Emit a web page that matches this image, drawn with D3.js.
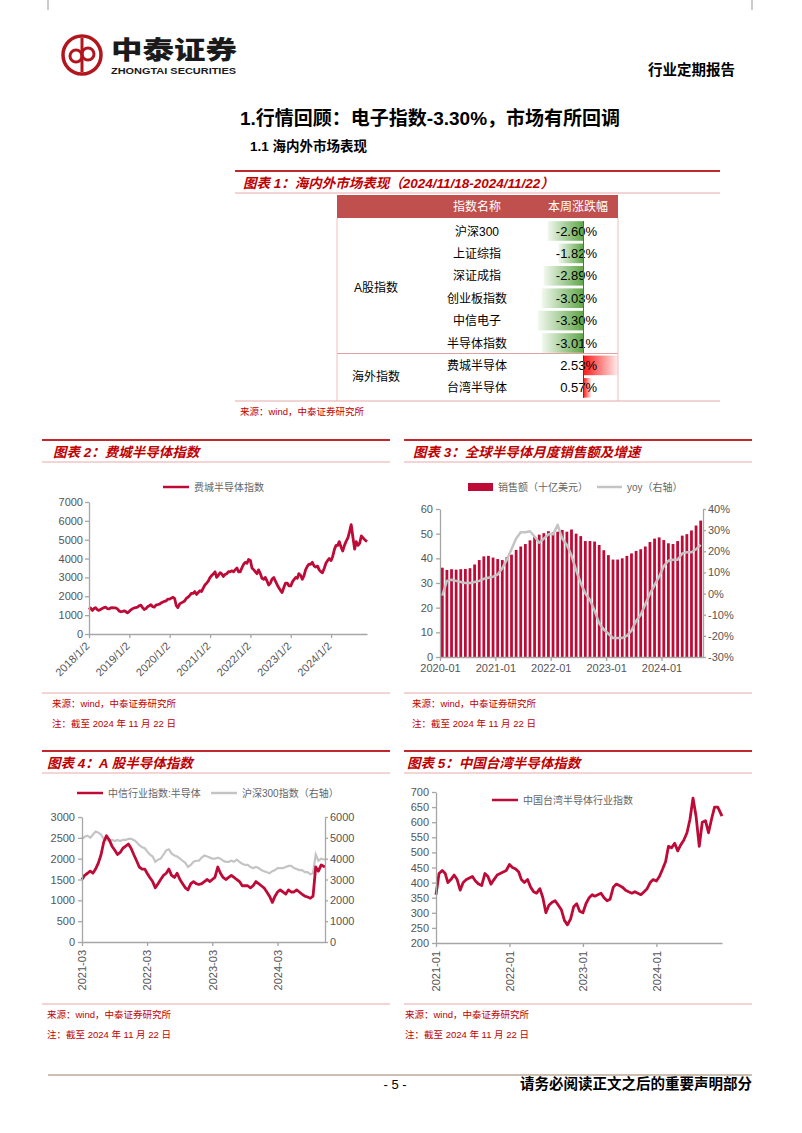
<!DOCTYPE html>
<html><head><meta charset="utf-8">
<script src="https://cdn.jsdelivr.net/npm/d3@7"></script>
<style>
body{margin:0;background:#fff;}
text{font-family:"Liberation Sans","Noto Sans CJK SC",sans-serif;}
</style></head><body>
<svg id="page" width="802" height="1133"></svg>
<script>
// ---- table 1
const tableNames = ["沪深300","上证综指","深证成指","创业板指数","中信电子","半导体指数","费城半导体","台湾半导体"];
const tableChanges = [-2.60,-1.82,-2.89,-3.03,-3.30,-3.01,2.53,0.57];
const tableGroups = [{name:"A股指数", first:0, last:5},{name:"海外指数", first:6, last:7}];

// ---- fig 2: 费城半导体指数, twice a month from 2018-01
const soxTicks = ["2018-01-02","2019-01-02","2020-01-02","2021-01-02","2022-01-02","2023-01-02","2024-01-02"];
const soxValues = [
  1300,1380,1250,1350,1400,1300,1250,1300,1350,1400,1420,1350,1330,1380,1400,1390,1380,1330,1220,1180,1200,1230,1180,1120,
  1200,1280,1350,1380,1400,1420,1500,1530,1400,1300,1350,1450,1500,1550,1450,1430,1550,1560,1580,1650,1700,1730,1760,1850,
  1850,1900,1950,1880,1500,1400,1600,1650,1700,1750,1900,1950,2050,2150,2150,2250,2100,2200,2300,2250,2450,2600,2700,2800,
  3000,3100,3200,3300,3000,3100,3250,3200,3050,3150,3200,3300,3300,3350,3300,3400,3500,3300,3300,3500,3700,3800,3750,3950,
  3900,3500,3400,3300,3200,3400,3200,2950,2900,3000,2800,2600,2700,2900,3000,2800,2600,2450,2300,2200,2500,2700,2700,2550,
  2550,2750,2900,3000,2950,3200,3100,2900,3100,3400,3600,3700,3700,3800,3600,3550,3600,3400,3300,3250,3500,3750,3900,4000,
  3900,4100,4500,4700,4700,4900,4600,4400,4700,4900,5100,5400,5800,5200,4500,4900,4700,4800,5200,5100,5000,4900
];

// ---- fig 3: 全球半导体月度销售额, 2020-01 .. 2024-09
const salesTickLabels = ["2020-01","2021-01","2022-01","2023-01","2024-01"];
const salesValues = [
  36.2,35.3,35.6,35.4,35.6,35.7,36.0,37.5,39.3,40.8,41.0,40.3,
  39.7,39.3,40.5,41.5,43.4,44.8,45.8,47.3,49.0,49.6,50.2,51.0,
  50.5,50.8,51.5,50.8,51.7,50.0,49.0,47.0,47.0,46.8,45.4,43.3,
  41.3,39.5,39.5,40.0,41.0,42.0,43.0,43.7,44.8,46.6,48.0,48.5,
  47.4,46.1,45.8,47.0,49.2,49.8,51.3,53.3,55.3
];
const salesYoy = [
  -1,6,6.5,6,5.5,5,5,5.5,6,7,7.5,8,
  9,12,16,21,26,29,29,29.5,27,24,26,28,
  28,32.5,26,23,18,11,5,0,-3,-8,-14,-17,
  -19,-21,-21,-21,-20,-17.5,-13,-10,-5,0,4,8,
  13,15.5,16,16,19,19.5,19.5,21,23
];

// ---- fig 4: A股半导体, twice a month from 2021-03
const aTicks = ["2021-03-01","2022-03-01","2023-03-01","2024-03-01"];
const citicSemi = [
  1500,1600,1650,1700,1650,1750,1900,2100,2400,2550,2450,2300,2200,2100,2150,2250,2300,2350,2250,2100,
  1950,1800,1750,1750,1650,1550,1450,1300,1400,1500,1600,1650,1750,1600,1550,1650,1500,1400,1300,1250,1400,1450,1400,1380,
  1400,1450,1500,1450,1500,1550,1800,1650,1550,1500,1550,1600,1550,1500,1450,1350,1350,1350,1300,1350,1450,1400,1350,1300,
  1200,1100,950,1100,1200,1250,1200,1150,1250,1200,1200,1250,1200,1150,1100,1080,1050,1100,1800,1700,1850,1800
];
const csi300 = [
  4950,5050,5100,5000,5150,5300,5250,5150,4950,4900,4850,4900,4850,4900,4850,4900,4900,4950,4950,4900,
  4800,4650,4550,4500,4350,4200,4100,3850,3950,4000,4200,4400,4450,4250,4150,4100,4000,3900,3800,3600,3700,3850,3900,3900,
  4050,4150,4100,4050,4000,4000,4050,4000,3900,3850,3850,3900,3850,3950,3850,3750,3700,3700,3600,3550,3600,3550,3450,3400,
  3350,3300,3400,3450,3550,3550,3550,3600,3650,3650,3550,3500,3450,3450,3350,3350,3250,3300,4200,3900,4000,3950
];

// ---- fig 5: 中国台湾半导体, twice a month from 2021-01
const twTicks = ["2021-01-01","2022-01-01","2023-01-01","2024-01-01"];
const twSemi = [
  360,430,440,430,400,410,425,410,375,400,410,415,420,405,395,390,430,420,395,410,425,430,435,440,
  460,450,445,435,410,400,410,385,370,365,380,350,300,325,335,340,325,310,275,260,280,320,330,305,
  300,330,350,360,355,360,365,350,340,345,385,395,390,385,375,370,365,370,365,360,370,380,400,410,
  405,420,445,470,520,515,530,505,525,540,565,610,680,620,520,600,605,565,610,650,650,620
];
const endDate = new Date(2024, 10, 22);

const RED = "#c00000";
const SERIES = "#be0a37";
const GRAY = "#c4c4c4";
const parse = d3.timeParse("%Y-%m-%d");
const plain = d3.format("d");

function halfMonthDates(y, m, d0, n) {
  return d3.range(n).map(i => i === n - 1 ? endDate : new Date(y, m + Math.floor(i / 2), i % 2 ? 16 : d0));
}

const svg = d3.select("#page");
svg.append("rect").attr("width", 802).attr("height", 1133).attr("fill", "#fff");

// header
svg.append("line").attr("x1", 48).attr("x2", 48).attr("y1", 0).attr("y2", 10).attr("stroke", "#999");
svg.append("line").attr("x1", 752).attr("x2", 752).attr("y1", 0).attr("y2", 10).attr("stroke", "#999");
const logo = svg.append("g").attr("fill", "none").attr("stroke", "#b3151d");
logo.append("circle").attr("cx", 82).attr("cy", 55).attr("r", 19).attr("stroke-width", 3.5);
logo.append("circle").attr("cx", 76).attr("cy", 56).attr("r", 6).attr("stroke-width", 3);
logo.append("circle").attr("cx", 88).attr("cy", 54).attr("r", 6).attr("stroke-width", 3);
logo.append("line").attr("x1", 82).attr("x2", 82).attr("y1", 38).attr("y2", 72).attr("stroke-width", 3);
svg.append("text").attr("x", 111).attr("y", 59).attr("font-size", 25).attr("font-weight", 900)
  .attr("textLength", 126).attr("lengthAdjust", "spacingAndGlyphs").attr("fill", "#1a1a1a").text("中泰证券");
svg.append("text").attr("x", 111).attr("y", 73.5).attr("font-size", 9).attr("font-weight", 700)
  .attr("textLength", 125).attr("lengthAdjust", "spacingAndGlyphs").attr("fill", "#1a1a1a").text("ZHONGTAI SECURITIES");
svg.append("text").attr("x", 735).attr("y", 75).attr("text-anchor", "end").attr("font-size", 14.5)
  .attr("font-weight", 700).text("行业定期报告");

svg.append("text").attr("x", 240).attr("y", 125).attr("font-size", 19).attr("font-weight", 700)
  .text("1.行情回顾：电子指数-3.30%，市场有所回调");
svg.append("text").attr("x", 250).attr("y", 151).attr("font-size", 13.5).attr("font-weight", 700)
  .text("1.1 海内外市场表现");

function frame(x0, x1, yTop, tx, title) {
  svg.append("line").attr("x1", x0).attr("x2", x1).attr("y1", yTop).attr("y2", yTop)
    .attr("stroke", "#c0282d").attr("stroke-width", 2.2);
  svg.append("text").attr("x", tx).attr("y", yTop + 17).attr("font-size", 13.5).attr("font-weight", 700)
    .attr("font-style", "italic").attr("fill", RED).text(title);
  svg.append("line").attr("x1", x0).attr("x2", x1).attr("y1", yTop + 22).attr("y2", yTop + 22)
    .attr("stroke", "#e8a9a9").attr("stroke-width", 1);
}
function source(x0, x1, yLine, tx, lines) {
  svg.append("line").attr("x1", x0).attr("x2", x1).attr("y1", yLine).attr("y2", yLine)
    .attr("stroke", "#e8a9a9").attr("stroke-width", 1.2);
  lines.forEach((t, i) => svg.append("text").attr("x", tx).attr("y", yLine + 14 + i * 20)
    .attr("font-size", 9.5).attr("fill", RED).text(t));
}
function styleAxis(g) {
  g.attr("font-size", 11).attr("font-family", "Liberation Sans, Arial, sans-serif");
  g.select(".domain").attr("stroke", "#a6a6a6").attr("stroke-width", 1.3);
  g.selectAll(".tick line").attr("stroke", "#a6a6a6").attr("stroke-width", 1.3);
  g.selectAll(".tick text").attr("fill", "#555");
}
function legendLine(x, y, color, label) {
  svg.append("line").attr("x1", x).attr("x2", x + 26).attr("y1", y).attr("y2", y)
    .attr("stroke", color).attr("stroke-width", 2.5);
  svg.append("text").attr("x", x + 31).attr("y", y + 3.5).attr("font-size", 10).attr("fill", "#666").text(label);
}
const SRC = "来源：wind，中泰证券研究所";
const NOTE = "注：截至 2024 年 11 月 22 日";

// ================= figure 1 table
frame(235, 720, 171, 243, "图表 1：海内外市场表现（2024/11/18-2024/11/22）");
const tX0 = 337, tX1 = 618, rowY0 = 231, rowStep = 22.4, zeroX = 583.5;
svg.append("rect").attr("x", tX0).attr("y", 195).attr("width", tX1 - tX0).attr("height", 23).attr("fill", "#c0504d");
svg.append("text").attr("x", 477).attr("y", 211).attr("text-anchor", "middle").attr("font-size", 12)
  .attr("fill", "#fff").text("指数名称");
svg.append("text").attr("x", 578).attr("y", 211).attr("text-anchor", "middle").attr("font-size", 12)
  .attr("fill", "#fff").text("本周涨跌幅");
const defs = svg.append("defs");
const gNeg = defs.append("linearGradient").attr("id", "gneg");
gNeg.append("stop").attr("offset", 0).attr("stop-color", "#f2f8ef");
gNeg.append("stop").attr("offset", 1).attr("stop-color", "#5ea646");
const gPos = defs.append("linearGradient").attr("id", "gpos");
gPos.append("stop").attr("offset", 0).attr("stop-color", "#ff1a1a");
gPos.append("stop").attr("offset", 1).attr("stop-color", "#fff0f0");
const barLen = d3.scaleLinear().domain([0, 3.3]).range([0, 45.5]);
const rowY = i => rowY0 + i * rowStep;
const rows = svg.append("g").selectAll("g").data(tableNames).join("g");
rows.append("rect")
  .attr("x", (d, i) => tableChanges[i] < 0 ? zeroX - barLen(-tableChanges[i]) : zeroX)
  .attr("y", (d, i) => rowY(i) - 9.8).attr("height", 19.6)
  .attr("width", (d, i) => barLen(Math.abs(tableChanges[i])))
  .attr("fill", (d, i) => tableChanges[i] < 0 ? "url(#gneg)" : "url(#gpos)");
rows.append("text").attr("x", 477).attr("y", (d, i) => rowY(i) + 4.5).attr("text-anchor", "middle")
  .attr("font-size", 12).text(d => d);
rows.append("text").attr("x", 597).attr("y", (d, i) => rowY(i) + 4.5).attr("text-anchor", "end")
  .attr("font-size", 13).text((d, i) => (tableChanges[i] < 0 ? "-" : "") + Math.abs(tableChanges[i]).toFixed(2) + "%");
svg.append("line").attr("x1", zeroX).attr("x2", zeroX).attr("y1", rowY(0) - 10).attr("y2", rowY(5) + 10)
  .attr("stroke", "#3f7f2f").attr("stroke-width", 1);
svg.append("line").attr("x1", zeroX).attr("x2", zeroX).attr("y1", rowY(6) - 10).attr("y2", rowY(7) + 10)
  .attr("stroke", "#e00000").attr("stroke-width", 1);
tableGroups.forEach(g => {
  svg.append("text").attr("x", 376).attr("y", (rowY(g.first) + rowY(g.last)) / 2 + 4.5)
    .attr("text-anchor", "middle").attr("font-size", 12).text(g.name);
});
svg.append("line").attr("x1", tX0).attr("x2", tX1).attr("y1", 353.5).attr("y2", 353.5).attr("stroke", "#e3a0a0");
[tX0, tX1].forEach(x => svg.append("line").attr("x1", x).attr("x2", x).attr("y1", 218).attr("y2", 401)
  .attr("stroke", "#eec0c0"));
source(235, 720, 401, 240, [SRC]);

// ================= figure 2
frame(42, 390, 440, 53, "图表 2：费城半导体指数");
legendLine(163, 487, SERIES, "费城半导体指数");
const soxDates = halfMonthDates(2018, 0, 2, soxValues.length);
const x2 = d3.scaleTime().domain([parse(soxTicks[0]), endDate]).range([89, 367]);
const y2 = d3.scaleLinear().domain([0, 7000]).range([634, 502]);
svg.append("path").datum(soxValues).attr("fill", "none").attr("stroke", SERIES).attr("stroke-width", 2.8)
  .attr("stroke-linejoin", "round")
  .attr("d", d3.line().x((d, i) => x2(soxDates[i])).y(d => y2(d)));
svg.append("g").attr("transform", "translate(89,0)")
  .call(d3.axisLeft(y2).tickValues(d3.range(0, 7001, 1000)).tickFormat(plain)
    .tickSize(4).tickPadding(2).tickSizeOuter(0))
  .call(styleAxis);
svg.append("g").attr("transform", "translate(0,634)")
  .call(d3.axisBottom(x2).tickValues(soxTicks.map(parse)).tickFormat(d3.timeFormat("%Y/%-m/%-d"))
    .tickSize(4).tickSizeOuter(0))
  .call(styleAxis)
  .call(g => g.selectAll(".tick text").attr("text-anchor", "end").attr("x", 0).attr("y", 0)
    .attr("dy", "0.35em").attr("transform", "translate(-2,10) rotate(-45)"));
source(42, 390, 693, 52, [SRC, NOTE]);

// ================= figure 3
frame(404, 752, 440, 413, "图表 3：全球半导体月度销售额及增速");
svg.append("rect").attr("x", 468).attr("y", 483).attr("width", 25).attr("height", 8).attr("fill", SERIES);
svg.append("text").attr("x", 498).attr("y", 490.5).attr("font-size", 10).attr("fill", "#666").text("销售额（十亿美元）");
svg.append("line").attr("x1", 597).attr("x2", 622).attr("y1", 487).attr("y2", 487).attr("stroke", GRAY).attr("stroke-width", 2.5);
svg.append("text").attr("x", 627).attr("y", 490.5).attr("font-size", 10).attr("fill", "#666").text("yoy（右轴）");
const x3 = d3.scaleLinear().domain([0, salesValues.length]).range([440, 703]);
const bw3 = x3(1) - x3(0);
const y3 = d3.scaleLinear().domain([0, 60]).range([657, 509]);
const y3r = d3.scaleLinear().domain([-30, 40]).range([657, 509]);
svg.append("g").selectAll("rect").data(salesValues).join("rect")
  .attr("x", (d, i) => x3(i) + bw3 * 0.2).attr("width", bw3 * 0.6)
  .attr("y", d => y3(d)).attr("height", d => y3(0) - y3(d)).attr("fill", SERIES);
svg.append("path").datum(salesYoy).attr("fill", "none").attr("stroke", GRAY).attr("stroke-width", 2.5)
  .attr("stroke-linejoin", "round")
  .attr("d", d3.line().x((d, i) => x3(i + 0.5)).y(d => y3r(d)));
svg.append("g").attr("transform", "translate(440,0)")
  .call(d3.axisLeft(y3).tickValues(d3.range(0, 61, 10)).tickSize(4).tickPadding(3).tickSizeOuter(0))
  .call(styleAxis);
svg.append("g").attr("transform", "translate(703,0)")
  .call(d3.axisRight(y3r).tickValues(d3.range(-30, 41, 10)).tickFormat(d => d + "%")
    .tickSize(3).tickPadding(2).tickSizeOuter(0))
  .call(styleAxis);
svg.append("g").attr("transform", "translate(0,657)")
  .call(d3.axisBottom(x3).tickValues([0, 12, 24, 36, 48]).tickFormat((d, i) => salesTickLabels[i])
    .tickSize(4).tickSizeOuter(0))
  .call(styleAxis);
source(404, 752, 693, 412, [SRC, NOTE]);

// ================= figure 4
frame(42, 390, 751, 47, "图表 4：A 股半导体指数");
legendLine(77, 793, SERIES, "中信行业指数:半导体");
legendLine(211, 793, GRAY, "沪深300指数（右轴）");
const aDates = halfMonthDates(2021, 2, 1, citicSemi.length);
const x4 = d3.scaleTime().domain([parse(aTicks[0]), endDate]).range([82, 325]);
const y4 = d3.scaleLinear().domain([0, 3000]).range([942, 817]);
const y4r = d3.scaleLinear().domain([0, 6000]).range([942, 817]);
svg.append("path").datum(csi300).attr("fill", "none").attr("stroke", GRAY).attr("stroke-width", 2.2)
  .attr("d", d3.line().x((d, i) => x4(aDates[i])).y(d => y4r(d)));
svg.append("path").datum(citicSemi).attr("fill", "none").attr("stroke", SERIES).attr("stroke-width", 2.8)
  .attr("stroke-linejoin", "round")
  .attr("d", d3.line().x((d, i) => x4(aDates[i])).y(d => y4(d)));
svg.append("g").attr("transform", "translate(82,0)")
  .call(d3.axisLeft(y4).tickValues(d3.range(0, 3001, 500)).tickFormat(plain)
    .tickSize(4).tickPadding(3).tickSizeOuter(0))
  .call(styleAxis);
svg.append("g").attr("transform", "translate(325,0)")
  .call(d3.axisRight(y4r).tickValues(d3.range(0, 6001, 1000)).tickFormat(plain)
    .tickSize(3).tickPadding(2).tickSizeOuter(0))
  .call(styleAxis);
svg.append("g").attr("transform", "translate(0,942)")
  .call(d3.axisBottom(x4).tickValues(aTicks.map(parse)).tickFormat(d3.timeFormat("%Y-%m"))
    .tickSize(4).tickSizeOuter(0))
  .call(styleAxis)
  .call(g => g.selectAll(".tick text").attr("text-anchor", "end").attr("x", 0).attr("y", 0)
    .attr("dy", "0.35em").attr("transform", "translate(0,8) rotate(-90)"));
source(42, 390, 1004, 47, [SRC, NOTE]);

// ================= figure 5
frame(404, 752, 751, 407, "图表 5：中国台湾半导体指数");
legendLine(492, 800, SERIES, "中国台湾半导体行业指数");
const twDates = halfMonthDates(2021, 0, 1, twSemi.length);
const x5 = d3.scaleTime().domain([parse(twTicks[0]), endDate]).range([436, 722]);
const y5 = d3.scaleLinear().domain([200, 700]).range([943, 792]);
svg.append("path").datum(twSemi).attr("fill", "none").attr("stroke", SERIES).attr("stroke-width", 2.8)
  .attr("stroke-linejoin", "round")
  .attr("d", d3.line().x((d, i) => x5(twDates[i])).y(d => y5(d)));
svg.append("g").attr("transform", "translate(436,0)")
  .call(d3.axisLeft(y5).tickValues(d3.range(200, 701, 50)).tickFormat(plain)
    .tickSize(4).tickPadding(3).tickSizeOuter(0))
  .call(styleAxis);
svg.append("g").attr("transform", "translate(0,943)")
  .call(d3.axisBottom(x5).tickValues(twTicks.map(parse)).tickFormat(d3.timeFormat("%Y-%m"))
    .tickSize(4).tickSizeOuter(0))
  .call(styleAxis)
  .call(g => g.selectAll(".tick text").attr("text-anchor", "end").attr("x", 0).attr("y", 0)
    .attr("dy", "0.35em").attr("transform", "translate(0,8) rotate(-90)"));
source(404, 752, 1004, 405, [SRC, NOTE]);

// footer
svg.append("line").attr("x1", 48).attr("x2", 752).attr("y1", 1075).attr("y2", 1075)
  .attr("stroke", "#cdbfb1").attr("stroke-width", 2);
svg.append("text").attr("x", 395).attr("y", 1089).attr("text-anchor", "middle").attr("font-size", 13).text("- 5 -");
svg.append("text").attr("x", 752).attr("y", 1089).attr("text-anchor", "end").attr("font-size", 14.5)
  .attr("font-weight", 700).text("请务必阅读正文之后的重要声明部分");
</script>
</body></html>
